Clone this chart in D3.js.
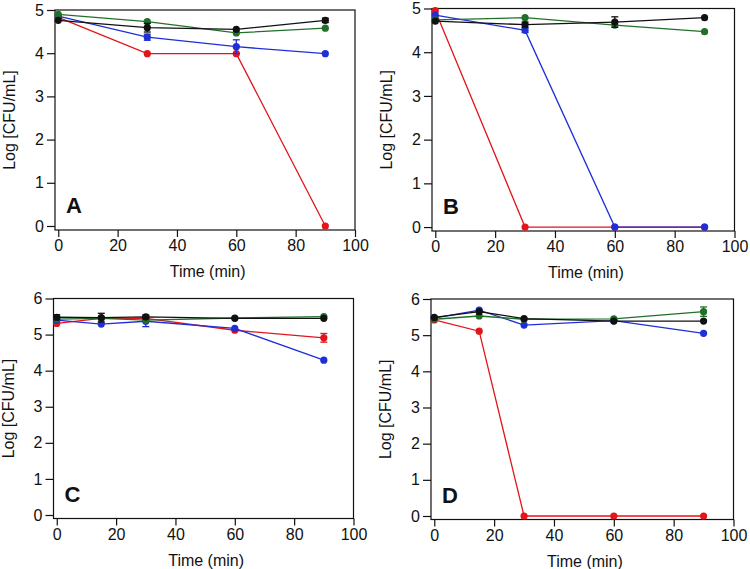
<!DOCTYPE html>
<html>
<head>
<meta charset="utf-8">
<script src="https://cdn.jsdelivr.net/npm/d3@7"></script>
<style>
  html, body { margin: 0; padding: 0; background: #fff; }
  svg { display: block; }
  text { font-family: "Liberation Sans", Arial, Helvetica, sans-serif; }
</style>
</head>
<body>
<svg id="chart" width="750" height="569"></svg>
<script>
// ---------- data ----------
const timesAB = [0, 30, 60, 90];
const timesCD = [0, 15, 30, 60, 90];
const xTicks = [0, 20, 40, 60, 80, 100];
const yTicksAB = [0, 1, 2, 3, 4, 5];
const yTicksCD = [0, 1, 2, 3, 4, 5, 6];
const panelLabels = ["A", "B", "C", "D"];
const seriesNames = ["red", "blue", "green", "black"];

// Panel A
const A_green = [4.90, 4.73, 4.47, 4.58];
const A_blue  = [4.86, 4.37, 4.15, 3.99];
const A_red   = [4.83, 3.99, 3.99, 0];
const A_black = [4.76, 4.59, 4.55, 4.76];
const A_green_err = [0.03, 0.03, 0.03, 0.03];
const A_blue_err  = [0.02, 0.07, 0.16, 0.02];
const A_red_err   = [0, 0.02, 0.02, 0];
const A_black_err = [0.04, 0.10, 0.04, 0.05];

// Panel B
const B_green = [4.74, 4.79, 4.62, 4.47];
const B_blue  = [4.85, 4.50, 0, 0];
const B_red   = [4.95, 0, 0, 0];
const B_black = [4.71, 4.63, 4.69, 4.79];
const B_green_err = [0.02, 0.03, 0.04, 0.03];
const B_blue_err  = [0.02, 0.05, 0, 0];
const B_red_err   = [0.03, 0, 0, 0];
const B_black_err = [0.03, 0.06, 0.12, 0.04];

// Panel C
const C_green = [5.43, 5.45, 5.40, 5.46, 5.50];
const C_blue  = [5.40, 5.29, 5.37, 5.17, 4.29];
const C_red   = [5.31, 5.45, 5.45, 5.12, 4.91];
const C_black = [5.48, 5.47, 5.49, 5.45, 5.45];
const C_green_err = [0.02, 0.02, 0.03, 0.02, 0.03];
const C_blue_err  = [0.02, 0.03, 0.15, 0.03, 0.02];
const C_red_err   = [0.04, 0.03, 0.03, 0.03, 0.12];
const C_black_err = [0.07, 0.12, 0.05, 0.03, 0.04];

// Panel D
const D_green = [5.44, 5.53, 5.44, 5.45, 5.65];
const D_blue  = [5.47, 5.69, 5.28, 5.40, 5.05];
const D_red   = [5.42, 5.11, 0, 0, 0];
const D_black = [5.49, 5.65, 5.46, 5.39, 5.39];
const D_green_err = [0.02, 0.03, 0.03, 0.03, 0.13];
const D_blue_err  = [0.02, 0.03, 0.03, 0.02, 0.02];
const D_red_err   = [0.02, 0.04, 0, 0, 0];
const D_black_err = [0.03, 0.03, 0.03, 0.03, 0.03];

// ---------- styles / layout ----------
const colors = { green: "#21702a", blue: "#1f2fd8", red: "#e3151b", black: "#111111" };

const panels = [
  { label: "A", times: timesAB, yTicks: yTicksAB, yMin: -0.093, yMax: 5,
    left: 55, right: 355, top: 10, bottom: 230,
    values: { green: A_green, blue: A_blue, red: A_red, black: A_black },
    errs:   { green: A_green_err, blue: A_blue_err, red: A_red_err, black: A_black_err } },
  { label: "B", times: timesAB, yTicks: yTicksAB, yMin: -0.09, yMax: 5,
    left: 432, right: 734.5, top: 8.5, bottom: 231,
    values: { green: B_green, blue: B_blue, red: B_red, black: B_black },
    errs:   { green: B_green_err, blue: B_blue_err, red: B_red_err, black: B_black_err } },
  { label: "C", times: timesCD, yTicks: yTicksCD, yMin: -0.097, yMax: 6,
    left: 53.5, right: 353.5, top: 298.5, bottom: 518.5,
    values: { green: C_green, blue: C_blue, red: C_red, black: C_black },
    errs:   { green: C_green_err, blue: C_blue_err, red: C_red_err, black: C_black_err } },
  { label: "D", times: timesCD, yTicks: yTicksCD, yMin: -0.097, yMax: 6,
    left: 431, right: 733.5, top: 299, bottom: 519.5,
    values: { green: D_green, blue: D_blue, red: D_red, black: D_black },
    errs:   { green: D_green_err, blue: D_blue_err, red: D_red_err, black: D_black_err } }
];

const svg = d3.select("#chart");

panels.forEach(p => {
  const x = d3.scaleLinear().domain([-1.1, 100]).range([p.left, p.right]);
  const y = d3.scaleLinear().domain([p.yMin, p.yMax]).range([p.bottom, p.top]);
  const g = svg.append("g");

  // frame
  g.append("rect")
    .attr("x", p.left).attr("y", p.top)
    .attr("width", p.right - p.left).attr("height", p.bottom - p.top)
    .attr("fill", "none").attr("stroke", "#111").attr("stroke-width", 1.2);

  // axes
  const xAxis = d3.axisBottom(x).tickValues(xTicks).tickSize(7).tickPadding(3).tickFormat(d3.format("d"));
  const yAxis = d3.axisLeft(y).tickValues(p.yTicks).tickSize(8).tickPadding(3).tickFormat(d3.format("d"));

  const gx = g.append("g").attr("transform", `translate(0,${p.bottom})`).call(xAxis);
  const gy = g.append("g").attr("transform", `translate(${p.left},0)`).call(yAxis);
  [gx, gy].forEach(a => {
    a.select(".domain").remove();
    a.selectAll(".tick line").attr("stroke", "#111").attr("stroke-width", 1.2);
    a.selectAll(".tick text").attr("fill", "#111").style("font-size", "16px");
  });

  // axis titles
  g.append("text")
    .attr("x", (x(0) + x(100)) / 2 + 1).attr("y", p.bottom + 47)
    .attr("text-anchor", "middle").style("font-size", "16px").attr("fill", "#111")
    .text("Time (min)");
  g.append("text")
    .attr("transform", `translate(${p.left - 40},${(p.top + p.bottom) / 2}) rotate(-90)`)
    .attr("text-anchor", "middle").style("font-size", "16px").attr("fill", "#111")
    .text("Log [CFU/mL]");

  // panel label
  g.append("text")
    .attr("x", p.left + 11).attr("y", p.bottom - 17)
    .style("font-size", "22px").style("font-weight", "bold").attr("fill", "#111")
    .text(p.label);

  // series
  const line = d3.line().x(d => x(d.t)).y(d => y(d.v));
  seriesNames.forEach(name => {
    const pts = p.times.map((t, i) => ({ t, v: p.values[name][i], e: p.errs[name][i] }));
    const c = colors[name];
    const sg = g.append("g");
    sg.append("path").datum(pts).attr("d", line)
      .attr("fill", "none").attr("stroke", c).attr("stroke-width", 1.3);
    // error bars
    const eb = sg.selectAll(".eb").data(pts.filter(d => d.e > 0.04)).enter().append("g");
    eb.append("line")
      .attr("x1", d => x(d.t)).attr("x2", d => x(d.t))
      .attr("y1", d => y(d.v - d.e)).attr("y2", d => y(d.v + d.e))
      .attr("stroke", c).attr("stroke-width", 1.3);
    eb.append("line")
      .attr("x1", d => x(d.t) - 3.5).attr("x2", d => x(d.t) + 3.5)
      .attr("y1", d => y(d.v + d.e)).attr("y2", d => y(d.v + d.e))
      .attr("stroke", c).attr("stroke-width", 1.3);
    eb.append("line")
      .attr("x1", d => x(d.t) - 3.5).attr("x2", d => x(d.t) + 3.5)
      .attr("y1", d => y(d.v - d.e)).attr("y2", d => y(d.v - d.e))
      .attr("stroke", c).attr("stroke-width", 1.3);
    // markers
    sg.selectAll("circle").data(pts).enter().append("circle")
      .attr("cx", d => x(d.t)).attr("cy", d => y(d.v)).attr("r", 3.6)
      .attr("fill", c);
  });
});
</script>
</body>
</html>
